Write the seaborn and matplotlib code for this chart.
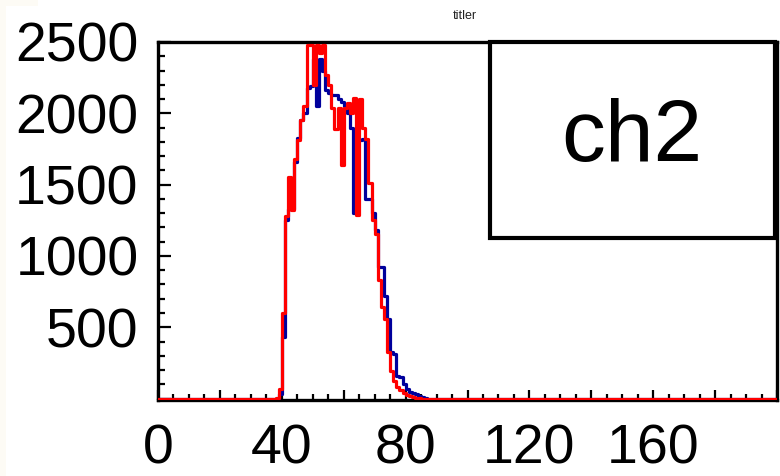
import numpy as np
import pandas as pd
import matplotlib
matplotlib.use("Agg")
import matplotlib.pyplot as plt
from matplotlib.patches import Rectangle
from matplotlib.ticker import MultipleLocator, FuncFormatter
import seaborn as sns

# ---- data (1-unit channel bins, lower edge listed) ----
channel = [37, 38, 39, 40, 41, 42, 43, 44, 45, 46, 47, 48, 49, 50, 51, 52, 53, 54,
           55, 56, 57, 58, 59, 60, 61, 62, 63, 64, 65, 66, 67, 68, 69, 70, 71, 72,
           73, 74, 75, 76, 77, 78, 79, 80, 81, 82, 83, 84, 85, 86]
counts_red = [0, 5, 70, 600, 1280, 1550, 1320, 1680, 1810, 1950, 2050, 2480, 2480, 2200,
              2480, 2420, 2480, 2270, 2200, 2040, 1890, 2040, 1640, 2040, 2070, 2000,
              2110, 1290, 2100, 1900, 1820, 1510, 1250, 1155, 830, 640, 560, 330, 190,
              120, 80, 60, 40, 28, 20, 12, 6, 3, 0, 0]
counts_blue = [0, 0, 30, 430, 1250, 1330, 1330, 1660, 1830, 1950, 2000, 2180, 2190, 2380,
               2050, 2380, 2300, 2160, 2140, 2130, 2130, 2100, 2080, 2050, 2000, 1900,
               1300, 1820, 1810, 1820, 1400, 1400, 1300, 1180, 920, 920, 720, 560, 330,
               315, 160, 150, 105, 70, 49, 40, 30, 18, 10, 5]
x_label_values = [0, 40, 80, 120, 160]
y_label_values = [500, 1000, 1500, 2000, 2500]
title_text = "titler"
legend_text = "ch2"

sns.set_theme(style="white")
plt.rcParams["font.family"] = ["Liberation Sans", "DejaVu Sans"]

W, H = 780, 476
fig = plt.figure(figsize=(W / 100, H / 100), dpi=100)
fig.patch.set_facecolor("white")

# faint cream margin seen at the left edge of the reference
cream = "#fdfbf5"
for (x0, y0, x1, y1) in [(0, 0, 6, 476), (0, 0, 38, 6)]:
    fig.patches.append(Rectangle((x0 / W, 1 - y1 / H), (x1 - x0) / W, (y1 - y0) / H,
                                 transform=fig.transFigure, facecolor=cream,
                                 edgecolor="none", zorder=0))

L, R, T, B = 158, 777, 42, 400
ax = fig.add_axes([L / W, 1 - B / H, (R - L) / W, (B - T) / H])
ax.set_facecolor("white")

df = pd.DataFrame({"channel": channel, "red": counts_red, "blue": counts_blue})
df["center"] = df["channel"] + 0.5

sns.histplot(data=df, x="center", weights="blue", binwidth=1, binrange=(0, 200),
             element="step", fill=False, color="#00009c", linewidth=2.3, ax=ax, zorder=3)
sns.histplot(data=df, x="center", weights="red", binwidth=1, binrange=(0, 200),
             element="step", fill=False, color="#ff0000", linewidth=2.3, ax=ax, zorder=4)

ax.set_xlim(0, 200)
ax.set_ylim(-10, 2500)
ax.set_xlabel("")
ax.set_ylabel("")
ax.grid(False)

for s in ax.spines.values():
    s.set_visible(True)
    s.set_color("black")
    s.set_linewidth(2.4)

ax.xaxis.set_major_locator(MultipleLocator(20))
ax.xaxis.set_minor_locator(MultipleLocator(5))
ax.xaxis.set_major_formatter(FuncFormatter(
    lambda v, p: str(int(round(v))) if int(round(v)) in x_label_values else ""))
ax.yaxis.set_major_locator(MultipleLocator(500))
ax.yaxis.set_minor_locator(MultipleLocator(100))
ax.yaxis.set_major_formatter(FuncFormatter(
    lambda v, p: str(int(round(v))) if int(round(v)) in y_label_values else ""))

ax.tick_params(axis="both", which="both", direction="in", color="black",
               labelcolor="black", bottom=True, left=True, top=False, right=False)
ax.tick_params(axis="x", which="major", length=7, width=1.6, pad=17, labelsize=40)
ax.tick_params(axis="x", which="minor", length=4, width=1.6)
ax.tick_params(axis="y", which="major", length=9, width=1.6, pad=14, labelsize=40)
ax.tick_params(axis="y", which="minor", length=5, width=1.6)

# legend box
box = Rectangle((490 / W, 1 - 238 / H), (775 - 490) / W, (238 - 42) / H,
                transform=fig.transFigure, facecolor="white", edgecolor="black",
                linewidth=3.0, zorder=10)
fig.patches.append(box)
fig.text(632 / W, 1 - 138 / H, legend_text, ha="center", va="center",
         fontsize=63, color="black", zorder=11)

# title
fig.text(465 / W, 1 - 16 / H, title_text, ha="center", va="center", fontsize=9,
         color="#222222")

fig.savefig("out.png", dpi=100, facecolor="white")
